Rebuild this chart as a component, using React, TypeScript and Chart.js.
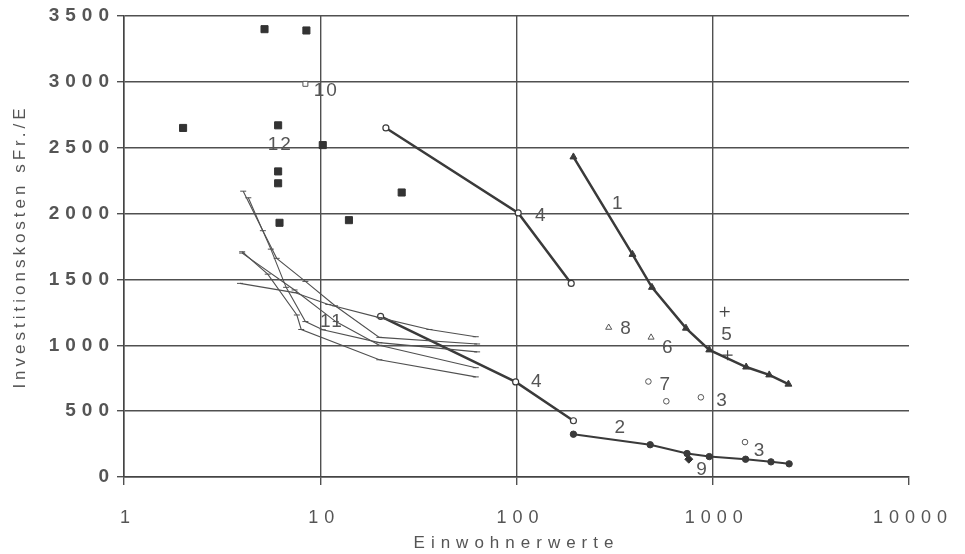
import React, { useEffect, useRef } from 'react';
import { Chart, registerables } from 'chart.js';

Chart.register(...registerables);

type P = { x: number; y: number };

// ---- data ----
const xTickValues = [1, 10, 100, 1000, 10000];
const yMin = 0;
const yMax = 3500;
const yStep = 500;

const series1: P[] = [
  { x: 195, y: 2430 }, { x: 390, y: 1690 }, { x: 490, y: 1440 }, { x: 730, y: 1130 },
  { x: 960, y: 965 }, { x: 1480, y: 835 }, { x: 1940, y: 775 }, { x: 2430, y: 705 },
];
const series2: P[] = [
  { x: 195, y: 325 }, { x: 480, y: 245 }, { x: 740, y: 178 }, { x: 960, y: 155 },
  { x: 1470, y: 135 }, { x: 1980, y: 115 }, { x: 2450, y: 100 },
];
const series3: P[] = [{ x: 870, y: 605 }, { x: 1460, y: 265 }];
const series4a: P[] = [{ x: 21.6, y: 2650 }, { x: 102, y: 2005 }, { x: 190, y: 1470 }];
const series4b: P[] = [{ x: 20.3, y: 1220 }, { x: 99, y: 722 }, { x: 195, y: 427 }];
const series5: P[] = [{ x: 1150, y: 1255 }, { x: 1190, y: 925 }];
const series6: P[] = [{ x: 485, y: 1060 }];
const series7: P[] = [{ x: 470, y: 725 }, { x: 580, y: 575 }];
const series8: P[] = [{ x: 295, y: 1135 }];
const series9: P[] = [{ x: 755, y: 135 }];
const series10: P[] = [{ x: 8.4, y: 2985 }];
const series11a: P[] = [
  { x: 4.05, y: 2170 }, { x: 5.1, y: 1870 }, { x: 6.0, y: 1660 }, { x: 8.4, y: 1485 },
  { x: 11.9, y: 1300 }, { x: 20, y: 1060 }, { x: 63, y: 1010 },
];
const series11b: P[] = [
  { x: 4.3, y: 2120 }, { x: 5.6, y: 1730 }, { x: 6.7, y: 1440 }, { x: 8.4, y: 1180 },
  { x: 10.3, y: 1118 }, { x: 20, y: 1020 }, { x: 63, y: 950 },
];
const series11c: P[] = [
  { x: 4.0, y: 1710 }, { x: 5.4, y: 1540 }, { x: 7.6, y: 1230 }, { x: 8.0, y: 1120 },
  { x: 20, y: 890 }, { x: 62, y: 760 },
];
const series11d: P[] = [
  { x: 4.0, y: 1700 }, { x: 7.4, y: 1420 }, { x: 12, y: 1180 }, { x: 20, y: 1000 }, { x: 62, y: 830 },
];
const series11e: P[] = [
  { x: 3.9, y: 1470 }, { x: 7.4, y: 1400 }, { x: 11, y: 1310 }, { x: 20, y: 1210 },
  { x: 36, y: 1120 }, { x: 62, y: 1065 },
];
const series12: P[] = [
  { x: 5.2, y: 3400 }, { x: 8.5, y: 3390 }, { x: 2.0, y: 2650 }, { x: 6.1, y: 2670 },
  { x: 10.3, y: 2520 }, { x: 6.1, y: 2320 }, { x: 6.1, y: 2230 }, { x: 26, y: 2160 },
  { x: 6.2, y: 1930 }, { x: 14, y: 1950 },
];

const labelTexts = ['1', '2', '3', '3', '4', '4', '5', '6', '7', '8', '9', '10', '11', '12'];
const labelX = [326, 336, 1109, 1722, 132, 126, 1176, 587, 569, 359, 877, 10.6, 11.34, 6.18];
const labelY = [2078, 376, 579, 199, 1982, 724, 1078, 983, 699, 1124, 53, 2931, 1182, 2521];

const xTitle = 'Einwohnerwerte';
const yTitle = 'Investitionskosten sFr./E';

// ---- styling ----
const FONT = '"Liberation Sans", Arial, Helvetica, sans-serif';
const INK = '#3a3a3a';
const GRID = '#505050';
const TEXT = '#555';

const spacing: Record<string, { labels: string; title: string }> = {
  x: { labels: '6px', title: '6px' },
  y: { labels: '6px', title: '4px' },
};

const thin = (label: string, data: P[]) => ({
  label, data, showLine: true, borderColor: '#505050', borderWidth: 1.1,
  pointStyle: 'line', pointRadius: 3, pointBorderColor: '#505050', pointBorderWidth: 1,
  backgroundColor: '#505050',
});

const spacingPlugin = {
  id: 'letterSpacing',
  afterLayout(chart: any) {
    ['x', 'y'].forEach((id) => {
      const s = chart.scales[id];
      if (!s || s.__spaced) return;
      s.__spaced = true;
      const dl = s.drawLabels.bind(s);
      const dt = s.drawTitle.bind(s);
      s.drawLabels = (...a: any[]) => {
        const ctx = s.ctx; ctx.save(); ctx.letterSpacing = spacing[id].labels; dl(...a); ctx.restore();
      };
      s.drawTitle = (...a: any[]) => {
        const ctx = s.ctx; ctx.save(); ctx.letterSpacing = spacing[id].title; dt(...a); ctx.restore();
      };
    });
  },
};

const labelPlugin = {
  id: 'seriesLabels',
  afterDatasetsDraw(chart: any) {
    const { ctx } = chart;
    const xs = chart.scales.x;
    const ys = chart.scales.y;
    ctx.save();
    ctx.font = `19px ${FONT}`;
    ctx.fillStyle = TEXT;
    ctx.textAlign = 'center';
    ctx.textBaseline = 'middle';
    ctx.letterSpacing = '2px';
    labelTexts.forEach((t, i) => {
      ctx.fillText(t, xs.getPixelForValue(labelX[i]) + 1, ys.getPixelForValue(labelY[i]));
    });
    ctx.restore();
  },
};

export default function App() {
  const ref = useRef<HTMLCanvasElement | null>(null);

  useEffect(() => {
    if (!ref.current) return;
    const chart = new Chart(ref.current, {
      type: 'scatter',
      data: {
        datasets: [
          thin('11a', series11a),
          thin('11b', series11b),
          thin('11c', series11c),
          thin('11d', series11d),
          thin('11e', series11e),
          {
            label: '12', data: series12, pointStyle: 'rect', pointRadius: 5,
            backgroundColor: '#333', borderColor: '#333', pointBorderWidth: 1,
          },
          {
            label: '10', data: series10, pointStyle: 'rect', pointRadius: 3.5,
            backgroundColor: '#fff', borderColor: '#555', pointBorderWidth: 1,
          },
          {
            label: '4a', data: series4a, showLine: true, borderColor: INK, borderWidth: 2.5,
            pointStyle: 'circle', pointRadius: 3, backgroundColor: '#fff',
            pointBorderColor: INK, pointBorderWidth: 1.2,
          },
          {
            label: '4b', data: series4b, showLine: true, borderColor: INK, borderWidth: 2.5,
            pointStyle: 'circle', pointRadius: 3, backgroundColor: '#fff',
            pointBorderColor: INK, pointBorderWidth: 1.2,
          },
          {
            label: '1', data: series1, showLine: true, borderColor: INK, borderWidth: 2.5,
            pointStyle: 'triangle', pointRadius: 4, backgroundColor: INK,
            pointBorderColor: INK, pointBorderWidth: 1,
          },
          {
            label: '2', data: series2, showLine: true, borderColor: INK, borderWidth: 2,
            pointStyle: 'circle', pointRadius: 3.2, backgroundColor: INK,
            pointBorderColor: INK, pointBorderWidth: 1,
          },
          {
            label: '5', data: series5, pointStyle: 'cross', pointRadius: 5,
            borderColor: '#444', pointBorderWidth: 1.2,
          },
          {
            label: '6', data: series6, pointStyle: 'triangle', pointRadius: 3.5,
            backgroundColor: '#fff', borderColor: '#555', pointBorderWidth: 1,
          },
          {
            label: '8', data: series8, pointStyle: 'triangle', pointRadius: 3.5,
            backgroundColor: '#fff', borderColor: '#555', pointBorderWidth: 1,
          },
          {
            label: '7', data: series7, pointStyle: 'circle', pointRadius: 2.8,
            backgroundColor: '#fff', borderColor: '#555', pointBorderWidth: 1,
          },
          {
            label: '3', data: series3, pointStyle: 'circle', pointRadius: 2.8,
            backgroundColor: '#fff', borderColor: '#555', pointBorderWidth: 1,
          },
          {
            label: '9', data: series9, pointStyle: 'rectRot', pointRadius: 4,
            backgroundColor: '#333', borderColor: '#333', pointBorderWidth: 1,
          },
        ] as any,
      },
      options: {
        responsive: false,
        animation: false,
        devicePixelRatio: 1,
        layout: { padding: { left: 0, right: 56, top: 16, bottom: 0 } },
        plugins: { legend: { display: false }, tooltip: { enabled: false } },
        scales: {
          x: {
            type: 'logarithmic',
            min: 1,
            max: 10000,
            afterBuildTicks: (s: any) => { s.ticks = xTickValues.map((v) => ({ value: v })); },
            afterFit: (s: any) => { s.height = 77; },
            ticks: {
              autoSkip: false, maxRotation: 0, minRotation: 0,
              callback: (v: any) => String(v),
              color: TEXT, padding: 22, labelOffset: 4,
              font: { family: FONT, size: 18 },
            },
            grid: {
              color: (c: any) => (c.tick && c.tick.value === 10000 ? 'rgba(0,0,0,0)' : GRID),
              lineWidth: 1.4, tickLength: 8, tickColor: GRID, drawTicks: true,
            },
            border: { color: '#444', width: 1.5 },
            title: {
              display: true, text: xTitle, color: TEXT,
              font: { family: FONT, size: 17 }, padding: { top: 0, bottom: 0 },
            },
          },
          y: {
            type: 'linear',
            min: yMin,
            max: yMax,
            afterFit: (s: any) => { s.width = 124; },
            ticks: {
              stepSize: yStep, color: TEXT, padding: 2,
              callback: (v: any) => String(v),
              font: { family: FONT, size: 19, weight: 'bold' },
            },
            grid: { color: GRID, lineWidth: 1.4, tickLength: 7, tickColor: GRID, drawTicks: true },
            border: { color: '#444', width: 1.5 },
            title: {
              display: true, text: yTitle, color: TEXT,
              font: { family: FONT, size: 17 }, padding: { top: 10, bottom: 0 },
            },
          },
        },
      } as any,
      plugins: [spacingPlugin, labelPlugin],
    });
    return () => chart.destroy();
  }, []);

  return (
    <div style={{ position: 'fixed', left: 0, top: 0, width: 965, height: 554, background: '#fff' }}>
      <canvas ref={ref} width={965} height={554} />
    </div>
  );
}
